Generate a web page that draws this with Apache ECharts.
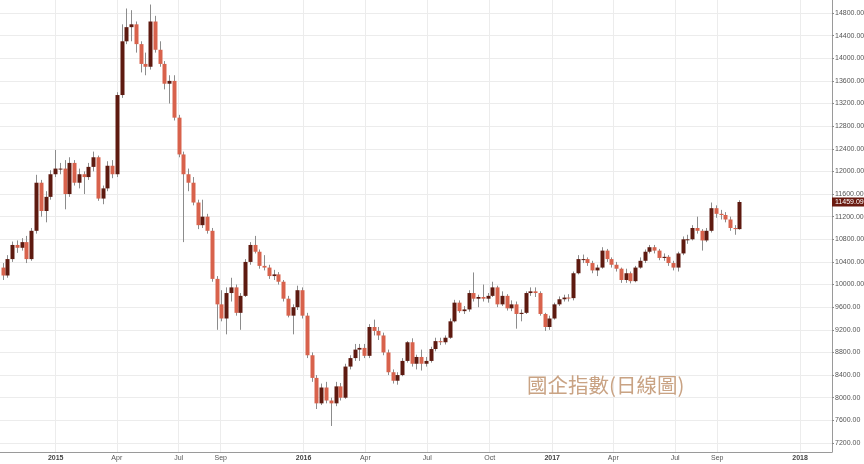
<!DOCTYPE html>
<html><head><meta charset="utf-8">
<script src="https://cdn.jsdelivr.net/npm/echarts@6/dist/echarts.min.js"></script>
<style>html,body{margin:0;padding:0;background:#fff}#c{width:864px;height:464px}</style>
</head><body><div id="c"></div>
<script>
// Weekly candles (mid-week date)
const dates = [
'2014-10-15','2014-10-22','2014-10-29','2014-11-05','2014-11-12','2014-11-19','2014-11-26','2014-12-03','2014-12-10','2014-12-17','2014-12-24','2014-12-31',
'2015-01-07','2015-01-14','2015-01-21','2015-01-28','2015-02-04','2015-02-11','2015-02-18','2015-02-25','2015-03-04','2015-03-11','2015-03-18','2015-03-25',
'2015-04-01','2015-04-08','2015-04-15','2015-04-22','2015-04-29','2015-05-06','2015-05-13','2015-05-20','2015-05-27','2015-06-03','2015-06-10','2015-06-17',
'2015-06-24','2015-07-01','2015-07-08','2015-07-15','2015-07-22','2015-07-29','2015-08-05','2015-08-12','2015-08-19','2015-08-26','2015-09-02','2015-09-09',
'2015-09-16','2015-09-23','2015-09-30','2015-10-07','2015-10-14','2015-10-21','2015-10-28','2015-11-04','2015-11-11','2015-11-18','2015-11-25','2015-12-02',
'2015-12-09','2015-12-16','2015-12-23','2015-12-30',
'2016-01-06','2016-01-13','2016-01-20','2016-01-27','2016-02-03','2016-02-10','2016-02-17','2016-02-24','2016-03-02','2016-03-09','2016-03-16','2016-03-23',
'2016-03-30','2016-04-06','2016-04-13','2016-04-20','2016-04-27','2016-05-04','2016-05-11','2016-05-18','2016-05-25','2016-06-01','2016-06-08','2016-06-15',
'2016-06-22','2016-06-29','2016-07-06','2016-07-13','2016-07-20','2016-07-27','2016-08-03','2016-08-10','2016-08-17','2016-08-24','2016-08-31','2016-09-07',
'2016-09-14','2016-09-21','2016-09-28','2016-10-05','2016-10-12','2016-10-19','2016-10-26','2016-11-02','2016-11-09','2016-11-16','2016-11-23','2016-11-30',
'2016-12-07','2016-12-14','2016-12-21','2016-12-28',
'2017-01-04','2017-01-11','2017-01-18','2017-01-25','2017-02-01','2017-02-08','2017-02-15','2017-02-22','2017-03-01','2017-03-08','2017-03-15','2017-03-22',
'2017-03-29','2017-04-05','2017-04-12','2017-04-19','2017-04-26','2017-05-03','2017-05-10','2017-05-17','2017-05-24','2017-05-31','2017-06-07','2017-06-14',
'2017-06-21','2017-06-28','2017-07-05','2017-07-12','2017-07-19','2017-07-26','2017-08-02','2017-08-09','2017-08-16','2017-08-23','2017-08-30','2017-09-06',
'2017-09-13','2017-09-20','2017-09-27','2017-10-03'
];
const opens = [
10300,10160,10450,10700,10650,10750,10450,10950,11800,11300,11550,11950,
12050,12050,11600,12150,11800,11950,11900,12080,12250,11520,11700,12100,
11950,13350,14300,14550,14600,14250,13900,13850,14650,14150,13900,13550,
13600,12950,12300,11950,11800,11450,11050,11200,10950,10100,9650,9400,
9850,9950,9500,9800,10400,10700,10580,10330,10300,10150,10180,10050,
9750,9450,9600,9900,
9450,8750,8350,7900,8180,7950,7900,8200,8000,8550,8700,8850,
8880,8740,9250,9180,9100,8800,8450,8300,8400,8650,8980,8600,
8720,8600,8650,8860,9000,8980,9060,9350,9680,9530,9560,9850,
9750,9780,9750,9800,9950,9650,9800,9580,9650,9480,9500,9850,
9880,9850,9480,9250,
9400,9650,9740,9770,9760,10200,10450,10450,10380,10250,10300,10600,
10450,10350,10280,10080,10200,10060,10300,10420,10580,10660,10600,10470,
10490,10380,10300,10550,10800,10800,11000,10950,10780,10950,11350,11250,
11230,11150,11000,10980
];
const closes = [
10160,10450,10700,10650,10750,10450,10950,11800,11300,11550,11950,12050,
12050,11600,12150,11800,11950,11900,12080,12250,11520,11700,12100,11950,
13350,14300,14550,14600,14250,13900,13850,14650,14150,13900,13550,13600,
12950,12300,11950,11800,11450,11050,11200,10950,10100,9650,9400,9850,
9950,9500,9800,10400,10700,10580,10330,10300,10150,10180,10050,9750,
9450,9600,9900,9450,
8750,8350,7900,8180,7950,7900,8200,8000,8550,8700,8850,8880,
8740,9250,9180,9100,8800,8450,8300,8400,8650,8980,8600,8720,
8600,8650,8860,9000,8980,9060,9350,9680,9530,9560,9850,9750,
9780,9750,9800,9950,9650,9800,9580,9650,9480,9500,9850,9880,
9850,9480,9250,9400,
9650,9740,9770,9760,10200,10450,10450,10380,10250,10300,10600,10450,
10350,10280,10080,10200,10060,10300,10420,10580,10660,10600,10470,10490,
10380,10300,10550,10800,10800,11000,10950,10780,10950,11350,11250,11230,
11150,11000,10980,11459.09
];
const lows = [
10080,10120,10400,10560,10600,10380,10420,10900,11200,11100,11500,11900,
11950,11330,11550,11750,11700,11600,11850,12000,11480,11420,11650,11880,
11900,13300,14250,14300,14100,13750,13700,13800,14100,13850,13450,13200,
12900,12250,10750,11650,11400,10980,11000,10900,10050,9200,9350,9120,
9700,9450,9200,9780,10350,10550,10280,10250,10100,10080,10000,9700,
9420,9120,9550,9400,
8700,8280,7800,7870,7900,7500,7850,7950,7980,8500,8650,8650,
8700,8700,9100,9020,8750,8400,8250,8230,8380,8620,8550,8500,
8480,8550,8620,8820,8930,8940,9040,9330,9500,9480,9520,9700,
9600,9700,9680,9780,9600,9620,9540,9530,9220,9350,9480,9800,
9780,9450,9180,9200,
9380,9620,9700,9700,9720,10180,10380,10330,10200,10150,10280,10400,
10300,10230,10030,10030,10020,10040,10280,10380,10550,10550,10430,10420,
10330,10250,10230,10520,10720,10780,10900,10600,10750,10920,11180,11150,
11100,10950,10880,10970
];
const highs = [
10380,10520,10760,10780,10820,10860,11000,11940,11850,11650,12020,12380,
12150,12200,12250,12200,12050,12000,12150,12350,12280,11750,12180,12200,
13400,14600,14880,14850,14650,14300,14100,14950,14750,14300,13950,13700,
13700,13000,12350,12050,11900,11500,11500,11250,11000,10150,9900,9950,
10120,10000,9850,10450,10750,10860,10620,10520,10350,10260,10220,10080,
9800,9650,9980,9950,
9500,8800,8400,8250,8280,8000,8280,8260,8600,8750,8950,8950,
8950,9300,9380,9250,9150,8850,8500,8450,8700,9000,9050,8760,
8850,8720,8900,9060,9060,9100,9400,9730,9720,9620,9900,10214,
9820,10000,9850,10050,9980,9880,9830,9720,9700,9560,9880,9950,
9950,9880,9500,9450,
9680,9790,9820,9830,10230,10520,10530,10480,10420,10350,10660,10630,
10480,10400,10300,10280,10230,10330,10480,10620,10700,10700,10630,10550,
10520,10420,10580,10850,10880,11050,11200,10980,11000,11450,11400,11320,
11280,11200,11050,11490
];
const yTicks = [7200,7600,8000,8400,8800,9200,9600,10000,10400,10800,11200,11600,12000,12400,12800,13200,13600,14000,14400,14800];
const xTicks = ['2015-01-01','2015-04-01','2015-07-01','2015-09-01','2016-01-01','2016-04-01','2016-07-01','2016-10-01','2017-01-01','2017-04-01','2017-07-01','2017-09-01','2018-01-01'];
const lastPrice = 11459.09;
const titleText = '國企指數(日線圖)';

const ts = s => new Date(s + 'T00:00:00').getTime();
const monthNames = ['Jan','Feb','Mar','Apr','May','Jun','Jul','Aug','Sep','Oct','Nov','Dec'];
const UP = '#5e1a10', DOWN = '#d8624c', WICK = '#8c8c8c';

const data = dates.map((d, i) => [ts(d), opens[i], closes[i], lows[i], highs[i]]);
const xTickVals = xTicks.map(ts);

const chart = echarts.init(document.getElementById('c'));
chart.setOption({
  animation: false,
  backgroundColor: '#fff',
  title: {
    text: titleText, left: 522, top: 370,
    textStyle: { fontSize: 20.5, fontWeight: 'normal', color: '#c9a384', fontFamily: '"Noto Sans CJK TC", sans-serif' }
  },
  grid: { left: 0, right: 32, top: 0, bottom: 12, containLabel: false, outerBoundsMode: 'none' },
  xAxis: {
    type: 'value', min: ts('2014-10-11'), max: ts('2018-02-17'), scale: true,
    axisLine: { lineStyle: { color: '#9a9a9a', width: 1 } },
    axisTick: { show: false, customValues: xTickVals },
    splitLine: { show: true, lineStyle: { color: '#ececec', width: 1 } },
    axisLabel: {
      customValues: xTickVals, margin: 3, fontSize: 7, color: '#555', fontFamily: 'Liberation Sans, Arial',
      formatter: v => { const d = new Date(v); return d.getMonth() === 0 ? '{y|' + d.getFullYear() + '}' : monthNames[d.getMonth()]; },
      rich: { y: { fontWeight: 'bold', fontSize: 7, color: '#444', fontFamily: 'Liberation Sans, Arial' } }
    }
  },
  yAxis: [{
    type: 'value', position: 'right', min: 7040, max: 15030, scale: true,
    axisLine: { show: true, lineStyle: { color: '#9a9a9a' } },
    axisTick: { show: true, length: 2, customValues: yTicks, lineStyle: { color: '#888' } },
    splitLine: { show: true, lineStyle: { color: '#ececec', width: 1 } },
    axisLabel: { customValues: yTicks, margin: 3, fontSize: 7, color: '#555', fontFamily: 'Liberation Sans, Arial', formatter: v => v.toFixed(2) }
  }, {
    type: 'value', position: 'right', min: 7040, max: 15030, scale: true,
    axisLine: { show: false }, axisTick: { show: false, customValues: [lastPrice] }, splitLine: { show: false },
    axisLabel: {
      customValues: [lastPrice], margin: 0, fontSize: 7, color: '#fff', fontFamily: 'Liberation Sans, Arial',
      backgroundColor: '#6a1a10', padding: [1, 3, 1, 3], formatter: v => v.toFixed(2)
    }
  }],
  series: [{
    type: 'custom',
    data: data,
    encode: { x: 0, y: [1, 2, 3, 4] },
    clip: true,
    renderItem: function (params, api) {
      const t = api.value(0), o = api.value(1), c = api.value(2), l = api.value(3), h = api.value(4);
      const pO = api.coord([t, o]), pC = api.coord([t, c]), pL = api.coord([t, l]), pH = api.coord([t, h]);
      const x = Math.round(pO[0]);
      const w = 4;
      const top = Math.min(pO[1], pC[1]);
      const bh = Math.max(1, Math.abs(pO[1] - pC[1]));
      return {
        type: 'group',
        children: [
          { type: 'line', shape: { x1: x + 0.5, y1: pH[1], x2: x + 0.5, y2: pL[1] }, style: { stroke: WICK, lineWidth: 1 } },
          { type: 'rect', shape: { x: x - 1.5, y: top, width: w, height: bh }, style: { fill: c >= o ? UP : DOWN } }
        ]
      };
    }
  }]
});
</script>
</body></html>
